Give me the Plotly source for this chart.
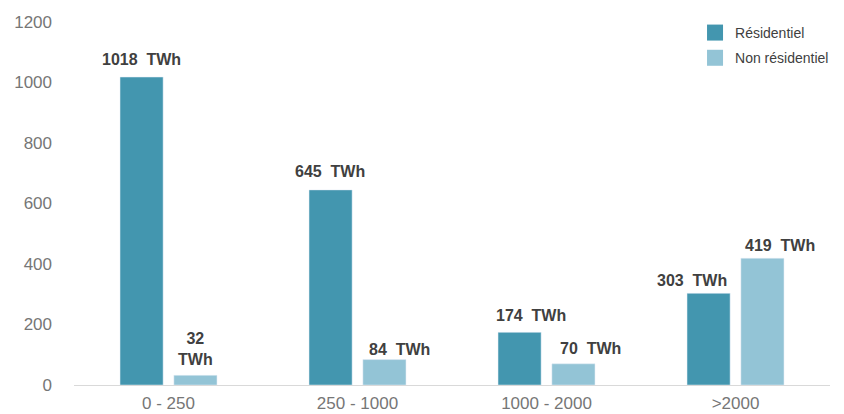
import plotly.graph_objects as go

categories = ["0 - 250", "250 - 1000", "1000 - 2000", ">2000"]
residentiel = [1018, 645, 174, 303]
non_residentiel = [32, 84, 70, 419]
res_labels = ["1018\u00a0\u00a0TWh", "645\u00a0\u00a0TWh", "174\u00a0\u00a0TWh", "303\u00a0\u00a0TWh"]
nonres_labels = ["32<br>TWh", "84\u00a0\u00a0TWh", "70\u00a0\u00a0TWh", "419\u00a0\u00a0TWh"]
y_ticks = [0, 200, 400, 600, 800, 1000, 1200]

# styling
C_RES = "#4396AF"
C_NON = "#93C4D6"
FONT = "Liberation Sans, Arial, sans-serif"
TICK_COLOR = "#767676"
BARGAP = 0.43
res_xshift = [0, -1, 11, -17]
non_xshift = [0, 15, 17, 18]
res_yshift = [7, 8, 6, 2]
non_yshift = [5, 0, 5, 2]

x = list(range(len(categories)))
fig = go.Figure()
fig.add_bar(x=x, y=residentiel, name="Résidentiel", marker_color=C_RES, showlegend=False)
fig.add_bar(x=x, y=non_residentiel, name="Non résidentiel", marker_color=C_NON, showlegend=False)
# legend entries (larger square swatches)
for name, col in [("Résidentiel", C_RES), ("Non résidentiel", C_NON)]:
    fig.add_scatter(x=[None], y=[None], mode="markers", name=name, legendgroup=name,
                    marker=dict(symbol="square", size=16, color=col), hoverinfo="skip")

off = (1 - BARGAP) / 4
anns = []
for i in x:
    anns.append(dict(x=i - off, y=residentiel[i], text=res_labels[i], showarrow=False,
                     yanchor="bottom", xshift=res_xshift[i], yshift=res_yshift[i]))
    anns.append(dict(x=i + off, y=non_residentiel[i], text=nonres_labels[i], showarrow=False,
                     yanchor="bottom", xshift=non_xshift[i], yshift=non_yshift[i]))
for a in anns:
    a["font"] = dict(family=FONT, size=16, color="#404040", weight="bold")
    a["xref"] = "x"
    a["yref"] = "y"

fig.update_layout(
    width=844, height=414,
    margin=dict(l=74, r=14, t=22, b=29, autoexpand=False),
    paper_bgcolor="white", plot_bgcolor="white",
    barmode="group", bargap=BARGAP, bargroupgap=0.2,
    font=dict(family=FONT, size=16, color=TICK_COLOR),
    annotations=anns,
    showlegend=True,
    legend=dict(xref="container", yref="container", x=0.8235, y=0.959,
                xanchor="left", yanchor="top",
                font=dict(family=FONT, size=14, color="#404040"),
                tracegroupgap=4, itemsizing="trace", bgcolor="rgba(0,0,0,0)"),
    xaxis=dict(range=[-0.5, 3.5], tickvals=x, ticktext=categories, showgrid=False,
               zeroline=False, showline=False, ticks="", ticklabelstandoff=6,
               automargin=False, tickfont=dict(size=17, color=TICK_COLOR)),
    yaxis=dict(range=[0, 1200], tickvals=y_ticks, showgrid=False, zeroline=True,
               zerolinecolor="#d9d9d9", zerolinewidth=1, showline=False, ticks="",
               automargin=False, ticklabelstandoff=21,
               tickfont=dict(size=17, color=TICK_COLOR)),
)
fig.write_html("out.html")
